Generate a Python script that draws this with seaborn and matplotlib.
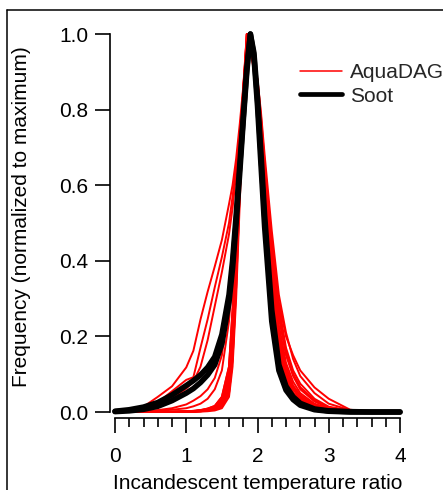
import numpy as np
import pandas as pd
import matplotlib
matplotlib.use("Agg")
import matplotlib.pyplot as plt
from matplotlib.lines import Line2D
from matplotlib.ticker import MultipleLocator
import seaborn as sns

# ---------------- data ----------------
x_ratio = [0.0, 0.2, 0.4, 0.6, 0.8, 1.0, 1.1, 1.2, 1.3, 1.4, 1.5, 1.6, 1.65, 1.7,
           1.75, 1.8, 1.85, 1.9, 1.95, 2.0, 2.05, 2.1, 2.2, 2.3, 2.4, 2.5, 2.6,
           2.8, 3.0, 3.3, 3.6, 4.0]

aquadag_1 = [0, 0, 0, 0, 0, 0.001, 0.002, 0.003, 0.005, 0.009, 0.02, 0.07, 0.18, 0.38,
             0.62, 0.83, 0.97, 1.0, 0.94, 0.84, 0.70, 0.55, 0.30, 0.14, 0.07, 0.04, 0.022,
             0.008, 0.003, 0.001, 0, 0]
aquadag_2 = [0, 0, 0, 0, 0, 0.001, 0.002, 0.004, 0.007, 0.013, 0.03, 0.10, 0.24, 0.44,
             0.66, 0.85, 1.0, 0.98, 0.90, 0.86, 0.74, 0.60, 0.37, 0.20, 0.11, 0.065, 0.04,
             0.018, 0.007, 0.002, 0, 0]
aquadag_3 = [0, 0, 0, 0, 0, 0, 0.001, 0.002, 0.004, 0.007, 0.015, 0.05, 0.14, 0.33,
             0.58, 0.80, 0.95, 1.0, 0.96, 0.87, 0.76, 0.64, 0.42, 0.26, 0.16, 0.10, 0.065,
             0.03, 0.012, 0.003, 0.001, 0]
aquadag_4 = [0, 0, 0, 0, 0.001, 0.002, 0.003, 0.005, 0.009, 0.016, 0.04, 0.12, 0.27, 0.47,
             0.68, 0.86, 0.98, 1.0, 0.92, 0.85, 0.72, 0.58, 0.34, 0.17, 0.09, 0.05, 0.03,
             0.012, 0.005, 0.001, 0, 0]
aquadag_5 = [0, 0, 0, 0, 0, 0.001, 0.002, 0.003, 0.005, 0.009, 0.02, 0.07, 0.18, 0.38,
             0.62, 0.83, 1.0, 0.97, 0.91, 0.88, 0.78, 0.66, 0.45, 0.29, 0.20, 0.15, 0.11,
             0.065, 0.035, 0.006, 0.001, 0]
aquadag_6 = [0, 0, 0, 0, 0, 0, 0.001, 0.002, 0.004, 0.007, 0.015, 0.05, 0.14, 0.33,
             0.58, 0.80, 0.96, 1.0, 0.95, 0.86, 0.74, 0.60, 0.37, 0.20, 0.11, 0.065, 0.04,
             0.018, 0.007, 0.002, 0, 0]
aquadag_7 = [0, 0, 0, 0, 0, 0.001, 0.002, 0.004, 0.007, 0.013, 0.03, 0.10, 0.24, 0.44,
             0.66, 0.85, 0.97, 1.0, 0.93, 0.85, 0.72, 0.58, 0.34, 0.17, 0.09, 0.05, 0.03,
             0.012, 0.005, 0.001, 0, 0]
aquadag_8 = [0, 0, 0, 0, 0.001, 0.002, 0.003, 0.005, 0.009, 0.016, 0.04, 0.12, 0.27, 0.47,
             0.68, 0.86, 1.0, 0.96, 0.90, 0.87, 0.76, 0.64, 0.42, 0.26, 0.16, 0.10, 0.065,
             0.03, 0.012, 0.003, 0.001, 0]
aquadag_9 = [0, 0.004, 0.014, 0.04, 0.068, 0.118, 0.162, 0.245, 0.318, 0.385, 0.455, 0.55,
             0.60, 0.67, 0.76, 0.86, 0.96, 1.0, 0.93, 0.82, 0.68, 0.55, 0.33, 0.17, 0.09,
             0.05, 0.03, 0.012, 0.005, 0.001, 0, 0]
aquadag_10 = [0, 0.003, 0.01, 0.025, 0.055, 0.085, 0.092, 0.17, 0.245, 0.33, 0.41, 0.50,
              0.57, 0.65, 0.74, 0.84, 0.95, 1.0, 0.94, 0.83, 0.70, 0.56, 0.34, 0.18, 0.10,
              0.06, 0.035, 0.014, 0.005, 0.001, 0, 0]
aquadag_11 = [0, 0.002, 0.006, 0.015, 0.035, 0.062, 0.08, 0.12, 0.19, 0.28, 0.37, 0.47,
              0.54, 0.63, 0.72, 0.83, 0.94, 1.0, 0.93, 0.81, 0.67, 0.53, 0.31, 0.16, 0.085,
              0.05, 0.028, 0.01, 0.004, 0.001, 0, 0]
aquadag_12 = [0, 0, 0.002, 0.005, 0.01, 0.02, 0.03, 0.042, 0.06, 0.09, 0.15, 0.30, 0.42,
              0.55, 0.68, 0.82, 0.94, 1.0, 0.94, 0.82, 0.68, 0.54, 0.31, 0.15, 0.08, 0.045,
              0.025, 0.01, 0.004, 0.001, 0, 0]
aquadag_13 = [0, 0, 0.001, 0.003, 0.006, 0.01, 0.015, 0.022, 0.035, 0.06, 0.11, 0.24, 0.37,
              0.52, 0.67, 0.83, 0.95, 1.0, 0.95, 0.86, 0.74, 0.61, 0.38, 0.21, 0.12, 0.07,
              0.045, 0.02, 0.008, 0.002, 0, 0]
aquadag_14 = [0, 0, 0, 0, 0, 0, 0, 0.001, 0.002, 0.004, 0.01, 0.04, 0.12, 0.30, 0.55,
              0.78, 0.94, 1.0, 0.95, 0.86, 0.75, 0.62, 0.40, 0.23, 0.13, 0.08, 0.05, 0.022,
              0.009, 0.002, 0, 0]
aquadag_15 = [0, 0, 0, 0, 0, 0.001, 0.002, 0.004, 0.006, 0.011, 0.025, 0.085, 0.21, 0.41,
              0.64, 0.84, 0.98, 1.0, 0.93, 0.87, 0.77, 0.65, 0.44, 0.28, 0.17, 0.11, 0.075,
              0.035, 0.014, 0.004, 0.001, 0]
aquadag_16 = [0, 0, 0, 0, 0.001, 0.001, 0.002, 0.004, 0.008, 0.014, 0.035, 0.11, 0.25,
              0.45, 0.67, 0.85, 0.97, 1.0, 0.94, 0.85, 0.73, 0.59, 0.36, 0.19, 0.10, 0.06,
              0.037, 0.016, 0.006, 0.002, 0, 0]
aquadag_17 = [0, 0, 0, 0, 0, 0.001, 0.002, 0.003, 0.005, 0.01, 0.022, 0.075, 0.19, 0.39,
              0.63, 0.84, 1.0, 0.98, 0.92, 0.88, 0.79, 0.68, 0.48, 0.31, 0.21, 0.14, 0.095,
              0.05, 0.022, 0.005, 0.001, 0]
aquadag_18 = [0, 0, 0, 0, 0, 0.001, 0.001, 0.002, 0.004, 0.008, 0.018, 0.06, 0.16, 0.36,
              0.60, 0.82, 0.96, 1.0, 0.95, 0.86, 0.75, 0.63, 0.41, 0.25, 0.15, 0.095, 0.06,
              0.028, 0.011, 0.003, 0, 0]

soot_1 = [0.002, 0.006, 0.013, 0.025, 0.045, 0.070, 0.083, 0.098, 0.118, 0.146, 0.205, 0.31,
          0.40, 0.52, 0.65, 0.78, 0.91, 1.0, 0.95, 0.83, 0.68, 0.52, 0.27, 0.125, 0.068,
          0.040, 0.023, 0.008, 0.003, 0.001, 0.0, 0.0]
soot_2 = [0.001, 0.003, 0.007, 0.015, 0.03, 0.05, 0.062, 0.078, 0.098, 0.125, 0.18, 0.29,
          0.38, 0.50, 0.63, 0.77, 0.90, 1.0, 0.94, 0.81, 0.65, 0.49, 0.24, 0.11, 0.058,
          0.033, 0.018, 0.006, 0.002, 0.0, 0.0, 0.0]

aquadag_curves = [aquadag_1, aquadag_2, aquadag_3, aquadag_4, aquadag_5, aquadag_6,
                  aquadag_7, aquadag_8, aquadag_9, aquadag_10, aquadag_11, aquadag_12,
                  aquadag_13, aquadag_14, aquadag_15, aquadag_16, aquadag_17, aquadag_18]
soot_curves = [soot_1, soot_2]

x_ticks = [0, 1, 2, 3, 4]
y_ticks = [0.0, 0.2, 0.4, 0.6, 0.8, 1.0]
legend_labels = ["AquaDAG", "Soot"]
x_label = "Incandescent temperature ratio"
y_label = "Frequency (normalized to maximum)"

# ---------------- long-form tables ----------------
def long_form(curves, prefix):
    rows = []
    for i, c in enumerate(curves):
        for xv, yv in zip(x_ratio, c):
            rows.append({"x": xv, "y": yv, "curve": f"{prefix}{i}"})
    return pd.DataFrame(rows)

red_df = long_form(aquadag_curves, "a")
black_df = long_form(soot_curves, "s")

# ---------------- style ----------------
sns.set_style("ticks")
plt.rcParams["font.family"] = ["Liberation Sans", "DejaVu Sans"]
FS = 15

W, H = 443, 490
fig = plt.figure(figsize=(W / 100, H / 100), dpi=100)
ax = fig.add_axes([115 / W, (H - 412) / H, 285 / W, 378 / H])

sns.lineplot(data=red_df, x="x", y="y", units="curve", estimator=None, sort=False,
             color="#ff0000", linewidth=1.4, ax=ax, legend=False, clip_on=False)
sns.lineplot(data=black_df, x="x", y="y", units="curve", estimator=None, sort=False,
             color="black", linewidth=4.0, ax=ax, legend=False, clip_on=False,
             solid_capstyle="round", solid_joinstyle="round")

ax.set_xlim(0, 4)
ax.set_ylim(0, 1)
ax.set_xticks(x_ticks)
ax.set_xticklabels([str(t) for t in x_ticks])
ax.xaxis.set_minor_locator(MultipleLocator(0.2))
ax.set_yticks(y_ticks)
ax.set_yticklabels([f"{t:.1f}" for t in y_ticks])

for s in ["top", "right"]:
    ax.spines[s].set_visible(False)
ax.spines["left"].set_position(("outward", 3.6))
ax.spines["bottom"].set_position(("outward", 4.0))
ax.spines["left"].set_bounds(0, 1)
ax.spines["bottom"].set_bounds(0, 4)
for s in ["left", "bottom"]:
    ax.spines[s].set_linewidth(1.2)
    ax.spines[s].set_color("black")

ax.tick_params(axis="y", which="major", length=10.5, width=1.2, pad=5,
               labelsize=FS, colors="black", direction="out")
ax.tick_params(axis="x", which="major", length=11, width=1.2, pad=10,
               labelsize=FS, colors="black", direction="out")
ax.tick_params(axis="x", which="minor", length=6.5, width=1.2, direction="out",
               colors="black")

ax.set_xlabel(x_label, fontsize=FS, color="black")
ax.set_ylabel(y_label, fontsize=FS, color="black")
ax.xaxis.set_label_coords(0.502, (412 - 474) / 378)
ax.yaxis.set_label_coords((31 - 115) / 285, (412 - 217) / 378)

handles = [Line2D([], [], color="#ff0000", lw=1.1),
           Line2D([], [], color="black", lw=3.4, solid_capstyle="round")]
ax.legend(handles=handles, labels=legend_labels, loc="upper left",
          bbox_to_anchor=(300 / W, 1 - 63 / H), bbox_transform=fig.transFigure,
          frameon=False, borderpad=0, borderaxespad=0, handlelength=2.0,
          handletextpad=0.4, labelspacing=0.22, fontsize=FS)

# panel frame (cropped figure border)
fig.add_artist(Line2D([7 / W, 1.0], [1 - 10 / H, 1 - 10 / H], transform=fig.transFigure,
                      color="black", lw=1.1))
fig.add_artist(Line2D([7 / W, 7 / W], [1 - 10 / H, 0.0], transform=fig.transFigure,
                      color="black", lw=1.1))

fig.savefig("out.png", dpi=100)
